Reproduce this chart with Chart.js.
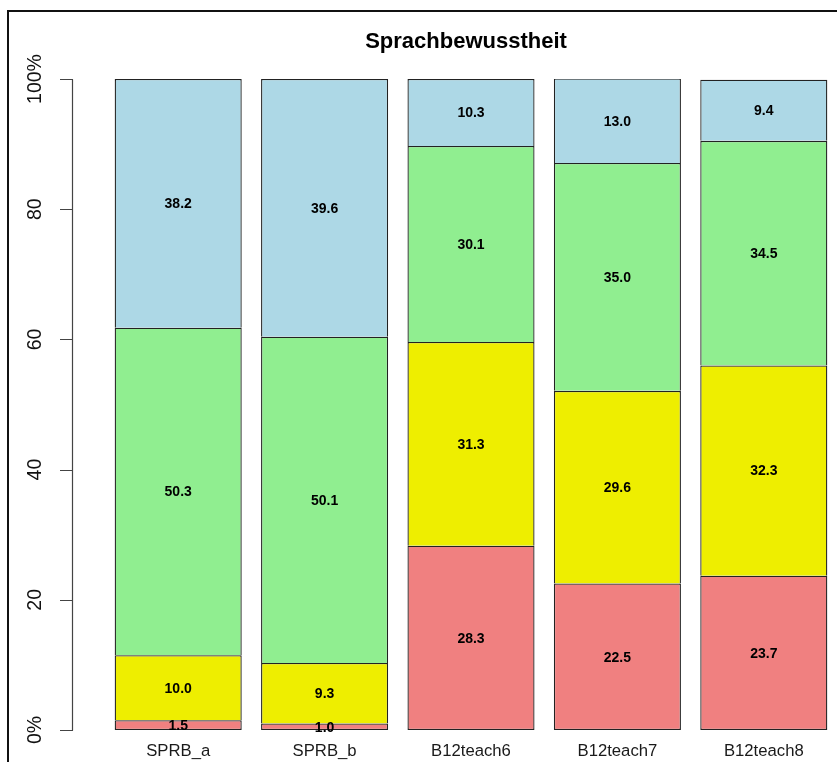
<!DOCTYPE html>
<html lang="de">
<head>
<meta charset="UTF-8">
<title>Sprachbewusstheit</title>
<script src="https://cdn.jsdelivr.net/npm/chart.js@4"></script>
<style>
  html, body { margin:0; padding:0; background:#fff; }
  canvas { display:block; }
</style>
</head>
<body>
<canvas id="cvs" width="837" height="762"></canvas>
<script>
// Daten (Prozent, von unten nach oben gestapelt)
const groups = ['SPRB_a','SPRB_b','B12teach6','B12teach7','B12teach8'];
const redVals    = [1.5, 1.0, 28.3, 22.5, 23.7];
const yellowVals = [10.0, 9.3, 31.3, 29.6, 32.3];
const greenVals  = [50.3, 50.1, 30.1, 35.0, 34.5];
const blueVals   = [38.2, 39.6, 10.3, 13.0, 9.4];
const yTicks = [0, 20, 40, 60, 80, 100];
const yTickLabels = ['0%', '20', '40', '60', '80', '100%'];
const chartTitle = 'Sprachbewusstheit';

const FONT = "'Liberation Sans', Arial, Helvetica, sans-serif";

// Rahmen, Titel, y-Achse im R-Stil und Segmentbeschriftungen
const rStyle = {
  id: 'rStyle',
  beforeDraw(chart) {
    const c = chart.ctx;
    c.save();
    c.fillStyle = '#fff';
    c.fillRect(0, 0, chart.width, chart.height);
    c.fillStyle = '#111';
    c.fillRect(7, 10, 2, chart.height - 10);
    c.fillRect(7, 10, chart.width - 7, 2);
    c.restore();
  },
  afterDatasetsDraw(chart) {
    const c = chart.ctx;
    const ys = chart.scales.y;
    c.save();
    // Titel
    c.fillStyle = '#000';
    c.font = 'bold 22px ' + FONT;
    c.textAlign = 'center';
    c.textBaseline = 'middle';
    c.fillText(chartTitle, 466, 42);

    // y-Achse
    const y0 = ys.getPixelForValue(0), y1 = ys.getPixelForValue(100);
    c.strokeStyle = '#444';
    c.lineWidth = 1.2;
    c.beginPath();
    c.moveTo(72.5, Math.round(y0) + 0.5);
    c.lineTo(72.5, Math.round(y1) + 0.5);
    yTicks.forEach(v => {
      const py = Math.round(ys.getPixelForValue(v)) + 0.5;
      c.moveTo(60, py);
      c.lineTo(73, py);
    });
    c.stroke();
    c.fillStyle = '#111';
    c.font = '19.5px ' + FONT;
    yTicks.forEach((v, i) => {
      const py = ys.getPixelForValue(v);
      c.save();
      c.translate(36, py);
      c.rotate(-Math.PI / 2);
      c.textAlign = 'center';
      c.textBaseline = 'middle';
      c.fillText(yTickLabels[i], 0, 0);
      c.restore();
    });

    // Werte in den Segmenten
    c.fillStyle = '#000';
    c.font = 'bold 14px ' + FONT;
    c.textAlign = 'center';
    c.textBaseline = 'middle';
    chart.data.datasets.forEach((ds, di) => {
      chart.getDatasetMeta(di).data.forEach((bar, i) => {
        const p = bar.getProps(['x', 'y', 'base'], true);
        c.fillText(ds.data[i].toFixed(1), p.x, (p.y + p.base) / 2 + 1);
      });
    });
    c.restore();
  }
};

const mk = (label, data, color, first) => ({
  label, data,
  backgroundColor: color,
  borderColor: '#222',
  borderWidth: 1.3,
  borderSkipped: first ? false : 'start',
  barPercentage: 0.868,
  categoryPercentage: 1.0
});

new Chart(document.getElementById('cvs').getContext('2d'), {
  type: 'bar',
  data: {
    labels: groups,
    datasets: [
      mk('1', redVals, '#F08080', true),
      mk('2', yellowVals, '#EEEE00'),
      mk('3', greenVals, '#90EE90'),
      mk('4', blueVals, '#ADD8E6')
    ]
  },
  options: {
    responsive: false,
    animation: false,
    layout: { padding: { left: 105, right: 0, top: 79, bottom: 0 } },
    plugins: { legend: { display: false }, title: { display: false }, tooltip: { enabled: false } },
    scales: {
      x: {
        stacked: true,
        grid: { display: false, drawTicks: false },
        border: { display: false },
        ticks: { color: '#1a1a1a', font: { family: FONT, size: 16.7 }, padding: 11 },
        afterFit: s => { s.height = 32; }
      },
      y: {
        stacked: true,
        display: false,
        min: 0, max: 100
      }
    }
  },
  plugins: [rStyle]
});
</script>
</body>
</html>
